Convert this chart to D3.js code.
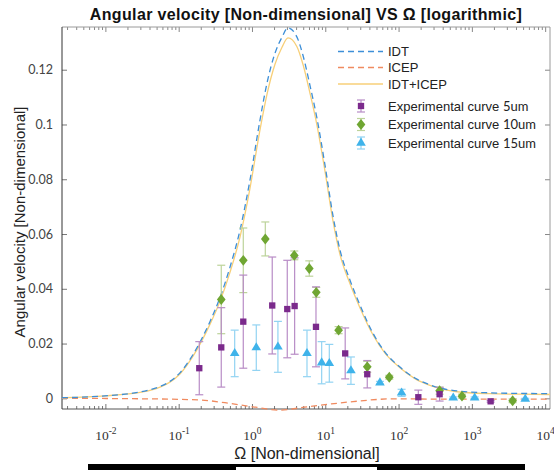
<!DOCTYPE html>
<html>
<head>
<meta charset="utf-8">
<script src="https://cdn.jsdelivr.net/npm/d3@7"></script>
<style>
  html, body { margin: 0; padding: 0; background: #fff; }
  svg { display: block; }
</style>
</head>
<body>
<svg id="chart" width="554" height="470"></svg>
<script>
// ---------- DATA ----------
const idtOmega = [0.00256, 0.0099, 0.0238, 0.0406, 0.0556, 0.076, 0.104, 0.157, 0.267, 0.366, 0.501, 0.686, 0.939, 1.286, 1.602, 2.06, 2.57, 3.10, 4.11, 4.96, 6.18, 7.70, 9.91, 12.7, 15.9, 21.7, 29.7, 44.7, 65.2, 104.4, 167, 268, 626, 1766, 4530, 11640];
const idtValues = [0.0002, 0.0009, 0.0019, 0.0031, 0.0043, 0.0062, 0.0093, 0.0160, 0.0280, 0.0368, 0.0479, 0.0614, 0.0797, 0.1016, 0.1151, 0.1260, 0.1319, 0.1353, 0.1319, 0.1253, 0.1143, 0.1023, 0.0852, 0.0669, 0.0541, 0.0432, 0.0341, 0.0238, 0.0169, 0.0114, 0.0074, 0.0049, 0.0027, 0.0020, 0.0018, 0.0017];
const sumValues = [0.0002, 0.0009, 0.0018, 0.0029, 0.0041, 0.0059, 0.0089, 0.0154, 0.0270, 0.0354, 0.0460, 0.0589, 0.0767, 0.0980, 0.1110, 0.1220, 0.1282, 0.1316, 0.1284, 0.1220, 0.1115, 0.0998, 0.0830, 0.0650, 0.0525, 0.0419, 0.0331, 0.0232, 0.0165, 0.0112, 0.0072, 0.0047, 0.0024, 0.0017, 0.0015, 0.0014];
const icepOmega = [0.00256, 0.0406, 0.195, 0.428, 1.03, 2.41, 5.63, 11.6, 23.9, 83.9, 502, 11640];
const icepValues = [0, -0.0002, -0.0006, -0.0016, -0.0031, -0.0043, -0.0031, -0.0021, -0.0012, -0.0002, -0.0003, -0.0003];

const exp5Omega = [0.191, 0.381, 0.761, 1.89, 3.03, 3.82, 7.47, 18.7, 37.4, 186, 363, 1803];
const exp5Values = [0.0110, 0.0186, 0.0280, 0.0339, 0.0326, 0.0337, 0.0261, 0.0164, 0.0088, 0.0004, 0.0015, -0.0011];
const exp5Err = [0.0097, 0.0145, 0.0170, 0.0177, 0.0178, 0.0176, 0.0146, 0.0093, 0.0050, 0.0026, 0.0025, 0.0003];

const exp10Omega = [0.381, 0.761, 1.52, 3.78, 6.05, 7.54, 15.2, 37.4, 74.7, 363, 733, 3600];
const exp10Values = [0.0361, 0.0504, 0.0582, 0.0522, 0.0474, 0.0387, 0.0249, 0.0115, 0.0077, 0.0028, 0.0008, -0.0009];
const exp10Err = [0.0125, 0.0118, 0.0062, 0.0016, 0.0028, 0.0018, 0.0013, 0.0020, 0.0007, 0.0013, 0.0007, 0.0007];

const exp15Omega = [0.581, 1.145, 2.26, 5.63, 8.93, 11.35, 22.4, 55.7, 110, 557, 1092, 5350];
const exp15Values = [0.0164, 0.0185, 0.0188, 0.0164, 0.0130, 0.0128, 0.0101, 0.0057, 0.0020, 0.0002, 0.0002, -0.0003];
const exp15Err = [0.0085, 0.0083, 0.0093, 0.0085, 0.0077, 0.0069, 0.0050, 0.0005, 0.0013, 0.0003, 0.0003, 0.0003];

const xTickValues = [1e-2, 1e-1, 1e0, 1e1, 1e2, 1e3, 1e4];
const xTickExponents = ["-2", "-1", "0", "1", "2", "3", "4"];
const yTickValues = [0, 0.02, 0.04, 0.06, 0.08, 0.1, 0.12];
const yTickLabels = ["0", "0.02", "0.04", "0.06", "0.08", "0.1", "0.12"];

const titleText = "Angular velocity [Non-dimensional] VS \u03A9 [logarithmic]";
const xLabelText = "\u03A9 [Non-dimensional]";
const yLabelText = "Angular velocity [Non-dimensional]";

// ---------- LAYOUT ----------
const svg = d3.select("#chart");
const W = 554, H = 470;
const L = 62, R = 550, T = 27, B = 409;

svg.append("rect").attr("width", W).attr("height", H).attr("fill", "#fff");

const x = d3.scaleLog().domain([0.00256, 11640]).range([L, R]);
const y = d3.scaleLinear().domain([-0.0039, 0.1356]).range([B, T]);

const C = {
  idt: "#3d8fd8", icep: "#f08a5f", sum: "#f7cf78",
  p5: "#7b2a8c", p5bar: "#b88cc6",
  p10: "#6fa632", p10bar: "#bcd39a",
  p15: "#3fb3ea", p15bar: "#92d3f2"
};

// minor ticks
const minorTicks = [];
for (let e = -3; e <= 4; e++) for (let m = 2; m <= 9; m++) {
  const v = m * Math.pow(10, e);
  if (v >= 0.00256 && v <= 11640) minorTicks.push(v);
}

function styleAxis(g, col) {
  g.select(".domain").remove();
  g.selectAll(".tick line").attr("stroke", col).attr("stroke-width", 1);
}

// bottom axis
const gxMinor = svg.append("g").attr("transform", `translate(0,${B})`)
  .call(d3.axisBottom(x).tickValues(minorTicks).tickSize(-3).tickFormat(""));
styleAxis(gxMinor, "#777");
const gx = svg.append("g").attr("transform", `translate(0,${B})`)
  .call(d3.axisBottom(x).tickValues(xTickValues).tickSize(-5).tickFormat(""));
styleAxis(gx, "#777");
gx.selectAll(".tick").each(function (d, i) {
  const t = d3.select(this).append("text")
    .attr("y", 31).attr("text-anchor", "middle")
    .attr("font-family", "'Liberation Serif', 'Times New Roman', serif")
    .attr("font-size", "13.5px").attr("fill", "#333");
  t.append("tspan").text("10");
  t.append("tspan").attr("dy", "-6").attr("font-size", "9.5px").text(xTickExponents[i]);
});

// top axis
const gtMinor = svg.append("g").attr("transform", `translate(0,${T})`)
  .call(d3.axisTop(x).tickValues(minorTicks).tickSize(-3).tickFormat(""));
styleAxis(gtMinor, "#888");
const gt = svg.append("g").attr("transform", `translate(0,${T})`)
  .call(d3.axisTop(x).tickValues(xTickValues).tickSize(-5).tickFormat(""));
styleAxis(gt, "#888");

// left axis
const gy = svg.append("g").attr("transform", `translate(${L},0)`)
  .call(d3.axisLeft(y).tickValues(yTickValues).tickSize(-5).tickPadding(9)
    .tickFormat((d, i) => yTickLabels[i]));
styleAxis(gy, "#777");
gy.selectAll(".tick text").attr("font-family", "Lato, 'Open Sans', sans-serif")
  .attr("font-size", "12.5px").attr("fill", "#444");

// right axis
const gr = svg.append("g").attr("transform", `translate(${R},0)`)
  .call(d3.axisRight(y).tickValues(yTickValues).tickSize(-5).tickFormat(""));
styleAxis(gr, "#888");

// frame
svg.append("line").attr("x1", L).attr("x2", R).attr("y1", T).attr("y2", T).attr("stroke", "#9a9a9a");
svg.append("line").attr("x1", R).attr("x2", R).attr("y1", T).attr("y2", B).attr("stroke", "#9a9a9a");
svg.append("line").attr("x1", L).attr("x2", R).attr("y1", B).attr("y2", B).attr("stroke", "#555");
svg.append("line").attr("x1", L).attr("x2", L).attr("y1", T).attr("y2", B).attr("stroke", "#333");

// ---------- CURVES ----------
const line = d3.line().x(d => x(d[0])).y(d => y(d[1])).curve(d3.curveMonotoneX);
const zip = (a, b) => a.map((v, i) => [v, b[i]]);

svg.append("path").datum(zip(icepOmega, icepValues)).attr("d", line)
  .attr("fill", "none").attr("stroke", C.icep).attr("stroke-width", 1.3).attr("stroke-dasharray", "6,4");
svg.append("path").datum(zip(idtOmega, sumValues)).attr("d", line)
  .attr("fill", "none").attr("stroke", C.sum).attr("stroke-width", 1.3);
svg.append("path").datum(zip(idtOmega, idtValues)).attr("d", line)
  .attr("fill", "none").attr("stroke", C.idt).attr("stroke-width", 1.3).attr("stroke-dasharray", "6,4");

// ---------- EXPERIMENTAL ----------
function errorBars(om, vals, errs, col) {
  const g = svg.append("g").attr("stroke", col).attr("stroke-width", 1.2);
  om.forEach((o, i) => {
    const cx = x(o), y1 = y(vals[i] + errs[i]), y2 = y(vals[i] - errs[i]);
    g.append("line").attr("x1", cx).attr("x2", cx).attr("y1", y1).attr("y2", y2);
    g.append("line").attr("x1", cx - 4).attr("x2", cx + 4).attr("y1", y1).attr("y2", y1);
    g.append("line").attr("x1", cx - 4).attr("x2", cx + 4).attr("y1", y2).attr("y2", y2);
  });
}
const symSquare = d3.symbol().type(d3.symbolSquare).size(40);
const symDiamond = d3.symbol().type(d3.symbolDiamond).size(42);
const symTri = d3.symbol().type(d3.symbolTriangle).size(40);

function markers(om, vals, sym, col, sx, sy) {
  svg.append("g").selectAll("path").data(om).join("path")
    .attr("d", sym)
    .attr("transform", (d, i) => `translate(${x(d)},${y(vals[i])}) scale(${sx},${sy})`)
    .attr("fill", col);
}

errorBars(exp10Omega, exp10Values, exp10Err, C.p10bar);
errorBars(exp5Omega, exp5Values, exp5Err, C.p5bar);
errorBars(exp15Omega, exp15Values, exp15Err, C.p15bar);
markers(exp10Omega, exp10Values, symDiamond, C.p10, 1.25, 0.9);
markers(exp5Omega, exp5Values, symSquare, C.p5, 1, 1);
markers(exp15Omega, exp15Values, symTri, C.p15, 1.0, 0.97);

// ---------- LEGEND ----------
const lg = svg.append("g").attr("font-family", "'Liberation Sans', Arial, sans-serif")
  .attr("font-size", "13px").attr("fill", "#222");
const lineItems = [
  { label: "IDT", col: C.idt, dash: "6,4", yy: 51.5 },
  { label: "ICEP", col: C.icep, dash: "6,4", yy: 67.5 },
  { label: "IDT+ICEP", col: C.sum, dash: null, yy: 84 }
];
lineItems.forEach(it => {
  const l = lg.append("line").attr("x1", 338).attr("x2", 383).attr("y1", it.yy).attr("y2", it.yy)
    .attr("stroke", it.col).attr("stroke-width", 1.3);
  if (it.dash) l.attr("stroke-dasharray", it.dash);
  lg.append("text").attr("x", 388).attr("y", it.yy).attr("dy", "0.35em").text(it.label);
});
const markItems = [
  { label: "Experimental curve ", size: "5um", sym: symSquare, col: C.p5, bar: C.p5bar, yy: 106, sx: 1, sy: 1 },
  { label: "Experimental curve ", size: "10um", sym: symDiamond, col: C.p10, bar: C.p10bar, yy: 124.5, sx: 1.25, sy: 0.9 },
  { label: "Experimental curve ", size: "15um", sym: symTri, col: C.p15, bar: C.p15bar, yy: 143, sx: 1.0, sy: 0.97 }
];
markItems.forEach(it => {
  const g = lg.append("g").attr("stroke", it.bar).attr("stroke-width", 1.2);
  g.append("line").attr("x1", 361).attr("x2", 361).attr("y1", it.yy - 6).attr("y2", it.yy + 6);
  g.append("line").attr("x1", 357).attr("x2", 365).attr("y1", it.yy - 6).attr("y2", it.yy - 6);
  g.append("line").attr("x1", 357).attr("x2", 365).attr("y1", it.yy + 6).attr("y2", it.yy + 6);
  lg.append("path").attr("d", it.sym()).attr("fill", it.col)
    .attr("transform", `translate(361,${it.yy}) scale(${it.sx},${it.sy})`);
  const t = lg.append("text").attr("x", 388).attr("y", it.yy).attr("dy", "0.35em");
  t.append("tspan").text(it.label);
  t.append("tspan").attr("font-family", "Lato, sans-serif").text(it.size);
});

// ---------- TITLES ----------
svg.append("text").attr("x", 306).attr("y", 20).attr("text-anchor", "middle")
  .attr("font-family", "'Liberation Sans', Arial, sans-serif").attr("font-weight", "bold")
  .attr("font-size", "16px").attr("letter-spacing", "0.35px").attr("fill", "#111").text(titleText);
svg.append("text").attr("x", 307).attr("y", 459).attr("text-anchor", "middle")
  .attr("font-family", "'Liberation Sans', Arial, sans-serif")
  .attr("font-size", "16px").attr("fill", "#222").text(xLabelText);
svg.append("text").attr("transform", "translate(25,222) rotate(-90)").attr("text-anchor", "middle")
  .attr("font-family", "'Liberation Sans', Arial, sans-serif")
  .attr("font-size", "15px").attr("fill", "#222").text(yLabelText);

// bottom bar
svg.append("rect").attr("x", 88).attr("y", 464).attr("width", 437).attr("height", 6).attr("fill", "#000");
svg.append("rect").attr("x", 236).attr("y", 467).attr("width", 141).attr("height", 3).attr("fill", "#fff");
</script>
</body>
</html>
